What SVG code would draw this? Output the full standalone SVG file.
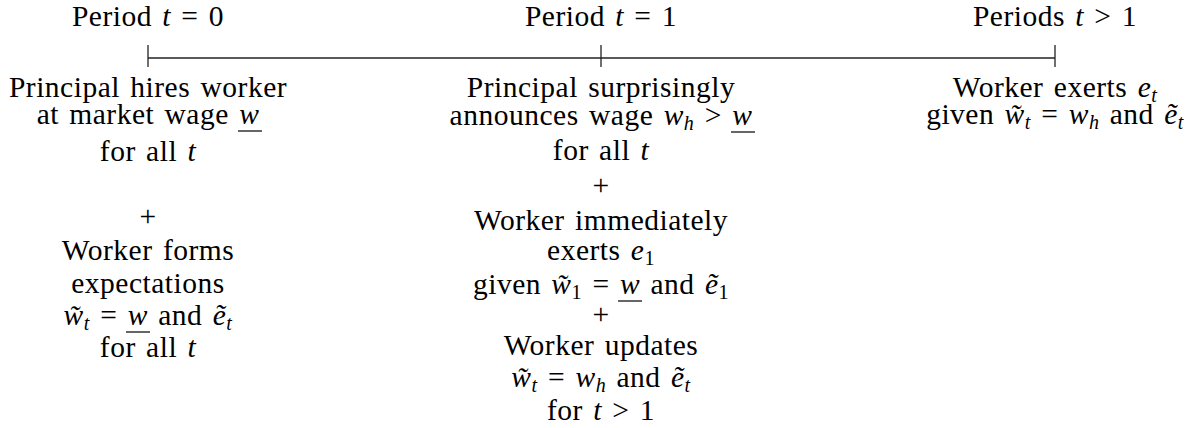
<svg xmlns="http://www.w3.org/2000/svg" width="1194" height="428" viewBox="0 0 1194 428">
<style>
text { font-family: "Liberation Serif", "Times New Roman", serif; font-size: 29.5px; fill: #000; text-anchor: middle; letter-spacing: 0.5px; word-spacing: 2.5px; }
.m { font-style: italic; }
.s { font-size: 20px; }
.ul { stroke: #000; stroke-width: 1.2; }
.tl { stroke: #222; stroke-width: 1.3; fill: none; }
</style>
<rect width="1194" height="428" fill="#fff"/>
<g id="connectors">
  <line class="tl" x1="148" y1="58" x2="1055" y2="58"/>
  <line class="tl" x1="148" y1="45" x2="148" y2="67"/>
  <line class="tl" x1="601" y1="45" x2="601" y2="67"/>
  <line class="tl" x1="1055" y1="45" x2="1055" y2="67"/>
</g>
<g id="period0">
  <text x="148" y="26">Period <tspan class="m">t</tspan> = 0</text>
  <text x="148" y="97">Principal hires worker</text>
  <text x="148" y="124">at market wage <tspan class="m">w</tspan></text>
  <line class="ul" x1="238" y1="131" x2="262" y2="131"/>
  <text x="148" y="161">for all <tspan class="m">t</tspan></text>
  <text x="148" y="226">+</text>
  <text x="148" y="260">Worker forms</text>
  <text x="148" y="293">expectations</text>
  <text x="148" y="325"><tspan class="m">w&#x303;</tspan><tspan class="s m" dy="5">t</tspan><tspan dy="-5"> = </tspan><tspan class="m">w</tspan> and <tspan class="m">e&#x303;</tspan><tspan class="s m" dy="5">t</tspan></text>
  <line class="ul" x1="126" y1="332" x2="150" y2="332"/>
  <text x="148" y="357">for all <tspan class="m">t</tspan></text>
</g>
<g id="period1">
  <text x="601" y="26">Period <tspan class="m">t</tspan> = 1</text>
  <text x="601" y="97">Principal surprisingly</text>
  <text x="601" y="125">announces wage <tspan class="m">w</tspan><tspan class="s m" dy="5">h</tspan><tspan dy="-5"> &gt; </tspan><tspan class="m">w</tspan></text>
  <line class="ul" x1="731" y1="132" x2="755" y2="132"/>
  <text x="601" y="160">for all <tspan class="m">t</tspan></text>
  <text x="601" y="195">+</text>
  <text x="601" y="230">Worker immediately</text>
  <text x="601" y="260">exerts <tspan class="m">e</tspan><tspan class="s" dy="5">1</tspan></text>
  <text x="601" y="294">given <tspan class="m">w&#x303;</tspan><tspan class="s" dy="5">1</tspan><tspan dy="-5"> = </tspan><tspan class="m">w</tspan> and <tspan class="m">e&#x303;</tspan><tspan class="s" dy="5">1</tspan></text>
  <line class="ul" x1="618" y1="301" x2="642" y2="301"/>
  <text x="601" y="324">+</text>
  <text x="601" y="355">Worker updates</text>
  <text x="601" y="387"><tspan class="m">w&#x303;</tspan><tspan class="s m" dy="5">t</tspan><tspan dy="-5"> = </tspan><tspan class="m">w</tspan><tspan class="s m" dy="5">h</tspan><tspan dy="-5"> and </tspan><tspan class="m">e&#x303;</tspan><tspan class="s m" dy="5">t</tspan></text>
  <text x="601" y="420">for <tspan class="m">t</tspan> &gt; 1</text>
</g>
<g id="periods-later">
  <text x="1055" y="26">Periods <tspan class="m">t</tspan> &gt; 1</text>
  <text x="1055" y="97">Worker exerts <tspan class="m">e</tspan><tspan class="s m" dy="5">t</tspan></text>
  <text x="1055" y="124">given <tspan class="m">w&#x303;</tspan><tspan class="s m" dy="5">t</tspan><tspan dy="-5"> = </tspan><tspan class="m">w</tspan><tspan class="s m" dy="5">h</tspan><tspan dy="-5"> and </tspan><tspan class="m">e&#x303;</tspan><tspan class="s m" dy="5">t</tspan></text>
</g>
</svg>
